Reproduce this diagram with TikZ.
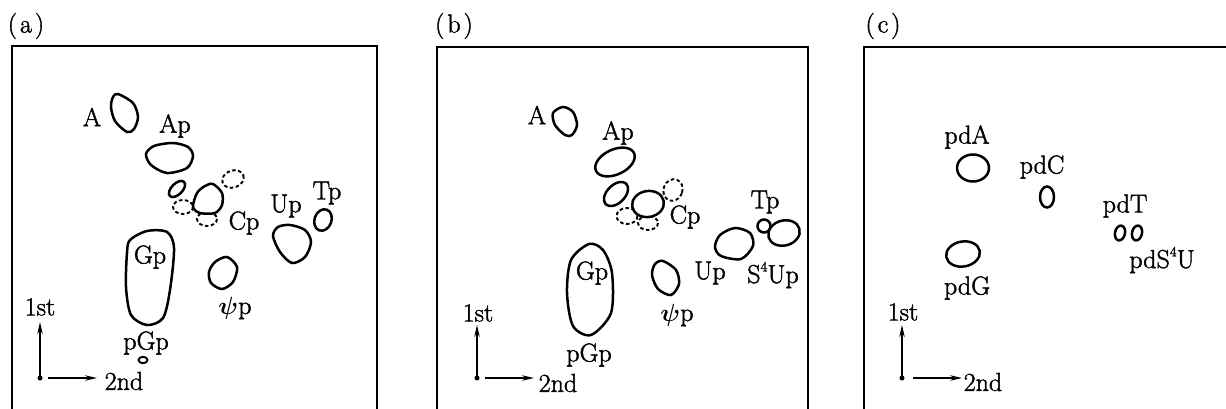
\documentclass[tikz,border=0pt]{standalone}
\usepackage{fontspec}
\newfontfamily\labfont[FakeBold=1.6]{Latin Modern Roman}
\usetikzlibrary{arrows.meta}
\begin{document}
\begin{tikzpicture}[x=1pt,y=-1pt,
  spot/.style={line width=2.5pt},
  dspot/.style={line width=1.9pt,dash pattern=on 3.5pt off 2.5pt},
  frame/.style={line width=1.2pt},
  lab/.style={font=\labfont\fontsize{26}{28}\selectfont,inner sep=0pt},
  ax/.style={line width=1.4pt,-{Stealth[length=12pt,width=5.5pt]}},
  dotc/.style={circle,fill,inner sep=0pt,minimum size=5pt}]
\useasboundingbox (0,0) rectangle (1226,409);
% frames
\draw[frame] (12,409)--(12,46)--(377,46)--(377,409);
\draw[frame] (437,409)--(437,47)--(808,47)--(808,409);
\draw[frame] (864,409)--(864,47)--(1226,47);
\node[lab] (la) at (26,26) {(\hspace{3pt}a\hspace{3pt})};
\node[lab] (lb) at (454,26) {(\hspace{3pt}b\hspace{3pt})};
\node[lab] (lc) at (883,26) {(\hspace{3pt}c\hspace{3pt})};

% ---------- panel (a)
\draw[spot] plot[smooth cycle] coordinates {(118,94)(133,103)(138,117)(134,129)(127,132)(115,121)(111,107)(113,97)};
\node[lab] (aA) at (92,117) {A};
\draw[spot] plot[smooth cycle] coordinates {(146,154)(154,146)(173,143)(188,147)(193,156)(187,168)(167,173)(151,165)};
\node[lab] (aAp) at (175,126) {Ap};
\draw[spot,rotate around={45:(177,189)}] (177,189) ellipse (10 and 5.5);
\draw[dspot,rotate around={20:(233,179)}] (233,179) ellipse (11 and 8.5);
\draw[dspot] (183,207) ellipse (10 and 7);
\draw[dspot] (207,219) ellipse (10 and 7);
\draw[spot,fill=white] plot[smooth cycle] coordinates {(213,184)(222,193)(222,205)(215,213)(200,213)(193,207)(197,193)(205,186)};
\node[lab] (aCp) at (244,223) {Cp};
\draw[spot] plot[smooth cycle] coordinates {(290,225)(305,230)(311,242)(305,257)(292,263)(280,252)(273,236)(278,227)};
\node[lab] (aUp) at (286,206) {Up};
\draw[spot,rotate around={-20:(323,220)}] (323,220) ellipse (8.5 and 11);
\node[lab] (aTp) at (327,193) {Tp};
\draw[spot] plot[smooth cycle] coordinates {(130,240)(147,231)(167,232)(174,248)(170,290)(163,318)(147,325)(131,315)(126,287)(127,253)};
\node[lab] (aGp) at (150,257) {Gp};
\draw[spot] plot[smooth cycle] coordinates {(227,257)(237,267)(233,282)(222,289)(211,283)(209,272)(215,262)};
\node[lab] (apsi) at (235,308) {{\boldmath$\psi$}p};
\draw[line width=1.9pt] (143,360) ellipse (4.5 and 3.2);
\node[lab] (apGp) at (146,343) {pGp};
\node[dotc] (ao) at (40,378) {};
\coordinate (ay) at (40,322);
\coordinate (ax0) at (48,378);
\coordinate (ax1) at (97,378);
\draw[ax] (ao.center) -- (ay);
\draw[ax] (ax0) -- (ax1);
\node[lab] (a1st) at (40,307) {1st};
\node[lab] (a2nd) at (124,381) {2nd};

% ---------- panel (b)
\draw[spot] plot[smooth cycle] coordinates {(563,107)(573,112)(577,125)(572,135)(565,135)(555,125)(553,113)};
\node[lab] (bA) at (537,115) {A};
\draw[spot,rotate around={25:(615,162)}] (615,162) ellipse (21 and 12.5);
\node[lab] (bAp) at (618,133) {Ap};
\draw[spot,rotate around={45:(616,194)}] (616,194) ellipse (14.5 and 9);
\draw[dspot,rotate around={-20:(673,190)}] (673,190) ellipse (9.5 and 11);
\draw[dspot] (627,216) ellipse (10.5 and 8);
\draw[dspot] (648,223) ellipse (10 and 7);
\draw[spot,fill=white,rotate around={10:(648,204)}] (648,204) ellipse (16 and 13);
\node[lab] (bCp) at (685,217) {Cp};
\draw[spot] plot[smooth cycle] coordinates {(715,247)(720,235)(735,228)(750,233)(753,246)(741,259)(721,256)};
\node[lab] (bUp) at (710,273) {Up};
\draw[spot] (764,226) circle (6.5);
\draw[spot,rotate around={15:(784,233)}] (784,233) ellipse (16 and 12.5);
\node[lab] (bTp) at (765,202) {Tp};
\node[lab] (bS) at (773,275) {S\raisebox{0.45em}{\fontsize{14}{14}\selectfont 4}Up};
\draw[spot] plot[smooth cycle] coordinates {(589,244)(603,250)(612,273)(611,313)(591,335)(573,326)(567,293)(571,260)};
\node[lab] (bGp) at (592,273) {Gp};
\draw[spot] plot[smooth cycle] coordinates {(663,261)(676,270)(679,284)(671,295)(658,289)(652,275)(655,264)};
\node[lab] (bpsi) at (677,315) {{\boldmath$\psi$}p};
\node[lab] (bpGp) at (589,355) {pGp};
\node[dotc] (bo) at (477,378) {};
\coordinate (by) at (477,325);
\coordinate (bx0) at (485,378);
\coordinate (bx1) at (534,378);
\draw[ax] (bo.center) -- (by);
\draw[ax] (bx0) -- (bx1);
\node[lab] (b1st) at (478,313) {1st};
\node[lab] (b2nd) at (558,383) {2nd};

% ---------- panel (c)
\draw[spot] (973,168) ellipse (16 and 13.5);
\node[lab] (cA) at (967,137) {pdA};
\draw[spot] (1047,197) ellipse (7 and 10.5);
\node[lab] (cC) at (1042,167) {pdC};
\draw[spot,rotate around={-12:(1120,233)}] (1120,233) ellipse (5 and 7.5);
\draw[spot,rotate around={-12:(1137,233)}] (1137,233) ellipse (5 and 7.5);
\node[lab] (cT) at (1125,206) {pdT};
\node[lab] (cS) at (1162,260) {pdS\raisebox{0.45em}{\fontsize{14}{14}\selectfont 4}U};
\draw[spot,rotate around={10:(963,254)}] (963,254) ellipse (17 and 12.5);
\node[lab] (cG) at (967,288) {pdG};
\node[dotc] (co) at (902,378) {};
\coordinate (cy) at (902,325);
\coordinate (cx0) at (913,378);
\coordinate (cx1) at (962,378);
\draw[ax] (co.center) -- (cy);
\draw[ax] (cx0) -- (cx1);
\node[lab] (c1st) at (903,312) {1st};
\node[lab] (c2nd) at (983,382) {2nd};
\end{tikzpicture}
\end{document}
